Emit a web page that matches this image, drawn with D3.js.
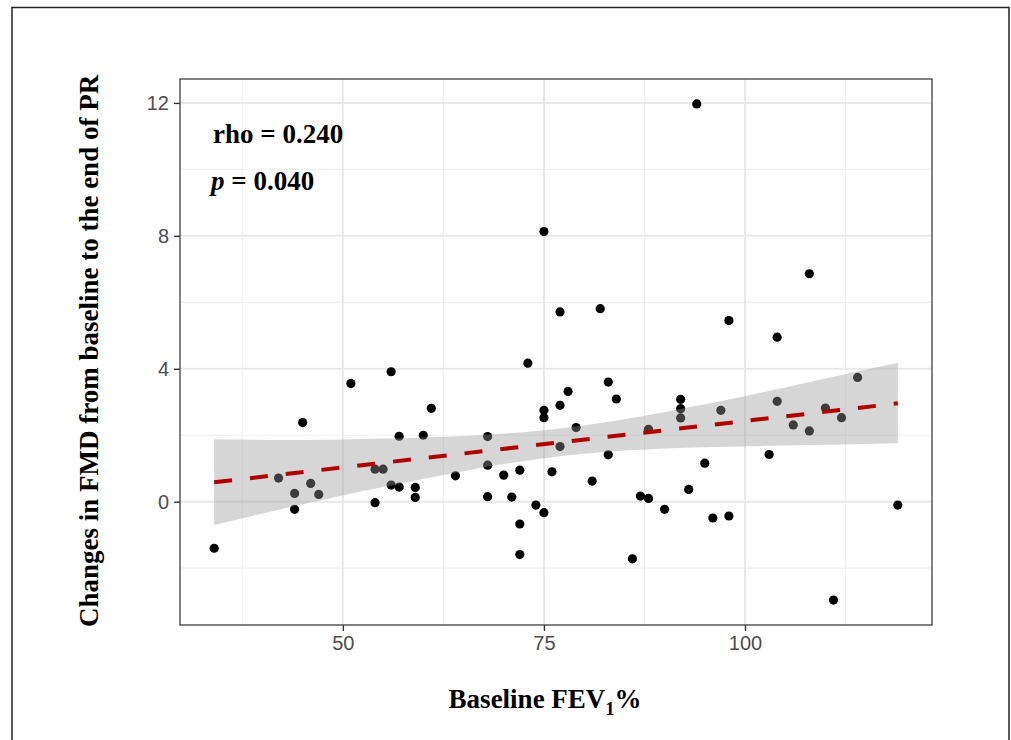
<!DOCTYPE html>
<html>
<head>
<meta charset="utf-8">
<script src="https://cdn.jsdelivr.net/npm/d3@7"></script>
<style>
  body { margin: 0; background: #fff; }
  .tick-label { font-family: "Liberation Sans", Arial, sans-serif; font-size: 20px; fill: #4d4d4d; }
  .axis-title, .stat-label { font-family: "Liberation Serif", "Times New Roman", serif; font-weight: bold; font-size: 27px; fill: #000; }
</style>
</head>
<body>
<div id="chart"></div>
<script>
// baseline FEV1 % (x) and change in FMD (y), one entry per patient
const fevValues = [34, 42, 44, 44, 45, 46, 47, 51, 54, 54, 55, 56, 56, 57, 57, 59, 59, 60, 61, 64,
  68, 68, 68, 70, 71, 72, 72, 72, 73, 74, 75, 75, 75, 75, 76, 77, 77, 77, 78, 79,
  81, 82, 83, 83, 84, 86, 87, 88, 88, 90, 92, 92, 92, 93, 94, 95, 96, 97, 98, 98,
  103, 104, 104, 106, 108, 108, 110, 111, 112, 114, 119];
const fmdValues = [-1.40, 0.71, 0.25, -0.23, 2.38, 0.55, 0.22, 3.56, 0.98, -0.03, 0.98, 3.91, 0.50, 1.97, 0.44, 0.43, 0.13, 2.00, 2.81, 0.78,
  1.96, 1.10, 0.15, 0.80, 0.14, 0.95, -0.67, -1.59, 4.17, -0.10, 8.13, 2.75, 2.53, -0.33, 0.90, 5.71, 2.90, 1.66, 3.32, 2.23,
  0.62, 5.81, 3.60, 1.41, 3.09, -1.72, 0.17, 2.18, 0.10, -0.23, 3.08, 2.80, 2.52, 0.37, 11.97, 1.16, -0.49, 2.75, 5.45, -0.43,
  1.42, 4.95, 3.02, 2.31, 6.86, 2.13, 2.82, -2.96, 2.53, 3.74, -0.10];

// fitted line and its confidence band
const fitX = [34, 119];
const fitY = [0.585, 2.96];
const bandX = [34, 45, 55, 65, 75, 85, 95, 105, 119];
const bandUpper = [1.88, 1.86, 1.90, 1.98, 2.15, 2.48, 2.93, 3.44, 4.18];
const bandLower = [-0.70, -0.08, 0.44, 0.92, 1.31, 1.54, 1.64, 1.69, 1.76];

const xTicks = [50, 75, 100];
const xMinor = [37.5, 62.5, 87.5, 112.5];
const yTicks = [0, 4, 8, 12];
const yMinor = [-2, 2, 6, 10];

const rhoText = "rho = 0.240";
const pText = " = 0.040";

const width = 1011, height = 740;
const panel = { left: 180, right: 932, top: 79, bottom: 625 };

const svg = d3.select('#chart')
  .append('svg')
  .attr('width', width)
  .attr('height', height);

// outer frame of the figure
svg.append('rect')
  .attr('x', 12).attr('y', 7.5)
  .attr('width', 997).attr('height', 760)
  .attr('fill', 'none')
  .attr('stroke', '#222')
  .attr('stroke-width', 1.5);

const x = d3.scaleLinear().domain([29.75, 123.25]).range([panel.left, panel.right]);
const y = d3.scaleLinear().domain([-3.71, 12.72]).range([panel.bottom, panel.top]);

// grid
const grid = svg.append('g');
grid.selectAll('.vminor').data(xMinor).enter().append('line')
  .attr('x1', d => x(d)).attr('x2', d => x(d))
  .attr('y1', panel.top).attr('y2', panel.bottom)
  .attr('stroke', '#f0f0f0').attr('stroke-width', 1.2);
grid.selectAll('.hminor').data(yMinor).enter().append('line')
  .attr('y1', d => y(d)).attr('y2', d => y(d))
  .attr('x1', panel.left).attr('x2', panel.right)
  .attr('stroke', '#f0f0f0').attr('stroke-width', 1.2);
grid.selectAll('.vmajor').data(xTicks).enter().append('line')
  .attr('x1', d => x(d)).attr('x2', d => x(d))
  .attr('y1', panel.top).attr('y2', panel.bottom)
  .attr('stroke', '#e8e8e8').attr('stroke-width', 2);
grid.selectAll('.hmajor').data(yTicks).enter().append('line')
  .attr('y1', d => y(d)).attr('y2', d => y(d))
  .attr('x1', panel.left).attr('x2', panel.right)
  .attr('stroke', '#e8e8e8').attr('stroke-width', 2);

// points
const points = fevValues.map((v, i) => ({ fev: v, fmd: fmdValues[i] }));
svg.append('g')
  .selectAll('circle')
  .data(points)
  .enter()
  .append('circle')
  .attr('cx', d => x(d.fev))
  .attr('cy', d => y(d.fmd))
  .attr('r', 4.6)
  .attr('fill', '#000');

// confidence band drawn over the points (semi transparent, like ggplot)
const band = bandX.map((v, i) => ({ x: v, hi: bandUpper[i], lo: bandLower[i] }));
const area = d3.area()
  .x(d => x(d.x))
  .y0(d => y(d.lo))
  .y1(d => y(d.hi))
  .curve(d3.curveNatural);
svg.append('path')
  .datum(band)
  .attr('d', area)
  .attr('fill', '#999999')
  .attr('fill-opacity', 0.4);

// fitted line
const fit = fitX.map((v, i) => [v, fitY[i]]);
svg.append('path')
  .datum(fit)
  .attr('d', d3.line().x(d => x(d[0])).y(d => y(d[1])))
  .attr('fill', 'none')
  .attr('stroke', '#b00000')
  .attr('stroke-width', 4)
  .attr('stroke-dasharray', '18,18');

// panel border
svg.append('rect')
  .attr('x', panel.left).attr('y', panel.top)
  .attr('width', panel.right - panel.left)
  .attr('height', panel.bottom - panel.top)
  .attr('fill', 'none')
  .attr('stroke', '#4d4d4d')
  .attr('stroke-width', 1.4);

// axes
const xAxis = svg.append('g')
  .attr('transform', `translate(0,${panel.bottom})`)
  .call(d3.axisBottom(x).tickValues(xTicks).tickSize(6).tickPadding(5).tickFormat(d3.format('d')));
const yAxis = svg.append('g')
  .attr('transform', `translate(${panel.left},0)`)
  .call(d3.axisLeft(y).tickValues(yTicks).tickSize(6).tickPadding(5).tickFormat(d3.format('d')));
[xAxis, yAxis].forEach(a => {
  a.select('.domain').remove();
  a.selectAll('.tick line').attr('stroke', '#333').attr('stroke-width', 1.4);
  a.selectAll('.tick text').attr('class', 'tick-label').attr('fill', null);
});

// axis titles
const xTitle = svg.append('text')
  .attr('class', 'axis-title')
  .attr('x', 545)
  .attr('y', 708)
  .attr('text-anchor', 'middle');
xTitle.append('tspan').text('Baseline FEV');
xTitle.append('tspan').attr('font-size', '18px').attr('dy', 7).text('1');
xTitle.append('tspan').attr('dy', -7).text('%');

svg.append('text')
  .attr('class', 'axis-title')
  .attr('transform', 'translate(98,351) rotate(-90)')
  .attr('text-anchor', 'middle')
  .text('Changes in FMD from baseline to the end of PR');

// correlation annotation
svg.append('text')
  .attr('class', 'stat-label')
  .attr('x', 213)
  .attr('y', 143)
  .text(rhoText);
const pLabel = svg.append('text')
  .attr('class', 'stat-label')
  .attr('x', 211)
  .attr('y', 190);
pLabel.append('tspan').attr('font-style', 'italic').text('p');
pLabel.append('tspan').text(pText);
</script>
</body>
</html>
